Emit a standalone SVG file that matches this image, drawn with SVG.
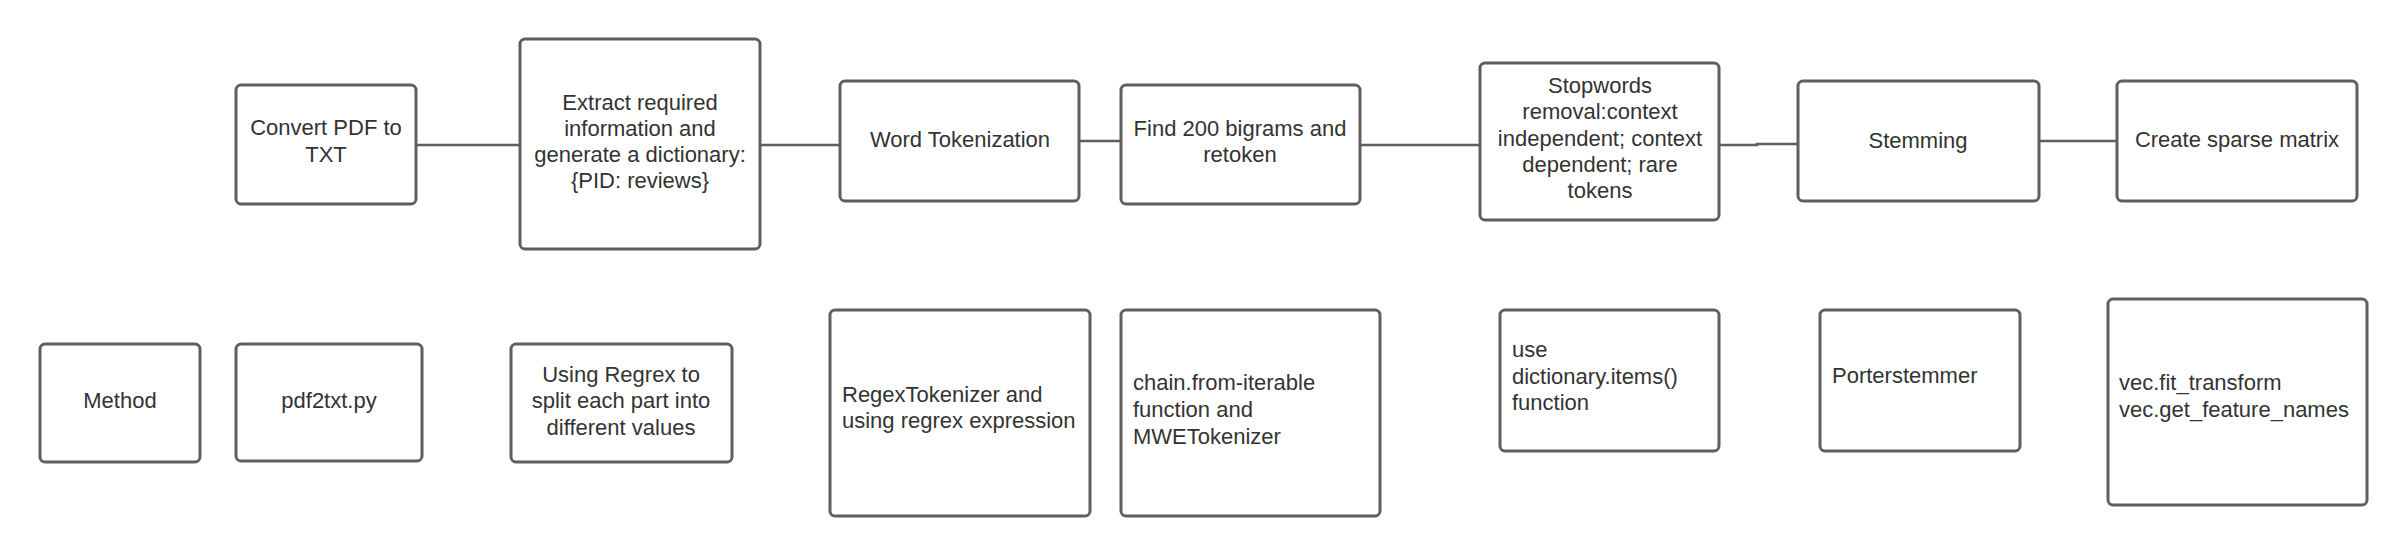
<svg xmlns="http://www.w3.org/2000/svg" width="2407" height="557" viewBox="0 0 2407 557">
<style>
.box{fill:#fff;stroke:#5f5f5f;stroke-width:3}
.t{font-family:"Liberation Sans",Arial,sans-serif;font-size:22px;fill:#333}
.c{text-anchor:middle}
.conn{fill:none;stroke:#5f5f5f;stroke-width:2.5}
</style>
<rect width="2407" height="557" fill="#fff"/>
<g id="connectors">
<path class="conn" d="M416 145H520"/>
<path class="conn" d="M760 145H840"/>
<path class="conn" d="M1079 141H1121"/>
<path class="conn" d="M1360 145H1480"/>
<path class="conn" d="M1719 145H1757V144H1798"/>
<path class="conn" d="M2039 141H2117"/>
</g>
<g id="convert"><rect class="box" x="236" y="85" width="180" height="119" rx="5"/>
<text class="t c" x="326" y="135">Convert PDF to</text><text class="t c" x="326" y="162">TXT</text></g>
<g id="extract"><rect class="box" x="520" y="39" width="240" height="210" rx="5"/>
<text class="t c" x="640" y="110">Extract required</text><text class="t c" x="640" y="136">information and</text><text class="t c" x="640" y="162">generate a dictionary:</text><text class="t c" x="640" y="188">{PID: reviews}</text></g>
<g id="word"><rect class="box" x="840" y="81" width="239" height="120" rx="5"/>
<text class="t c" x="960" y="147">Word Tokenization</text></g>
<g id="find"><rect class="box" x="1121" y="85" width="239" height="119" rx="5"/>
<text class="t c" x="1240" y="136">Find 200 bigrams and</text><text class="t c" x="1240" y="162">retoken</text></g>
<g id="stopwords"><rect class="box" x="1480" y="63" width="239" height="157" rx="5"/>
<text class="t c" x="1600" y="93">Stopwords</text><text class="t c" x="1600" y="119">removal:context</text><text class="t c" x="1600" y="146">independent; context</text><text class="t c" x="1600" y="172">dependent; rare</text><text class="t c" x="1600" y="198">tokens</text></g>
<g id="stemming"><rect class="box" x="1798" y="81" width="241" height="120" rx="5"/>
<text class="t c" x="1918" y="148">Stemming</text></g>
<g id="sparse"><rect class="box" x="2117" y="81" width="240" height="120" rx="5"/>
<text class="t c" x="2237" y="147">Create sparse matrix</text></g>
<g id="method"><rect class="box" x="40" y="344" width="160" height="118" rx="5"/>
<text class="t c" x="120" y="408">Method</text></g>
<g id="pdf2txt"><rect class="box" x="236" y="344" width="186" height="117" rx="5"/>
<text class="t c" x="329" y="408">pdf2txt.py</text></g>
<g id="regrex"><rect class="box" x="511" y="344" width="221" height="118" rx="5"/>
<text class="t c" x="621" y="382">Using Regrex to</text><text class="t c" x="621" y="408">split each part into</text><text class="t c" x="621" y="435">different values</text></g>
<g id="regextok"><rect class="box" x="830" y="310" width="260" height="206" rx="5"/>
<text class="t" x="842" y="402">RegexTokenizer and</text><text class="t" x="842" y="428">using regrex expression</text></g>
<g id="chain"><rect class="box" x="1121" y="310" width="259" height="206" rx="5"/>
<text class="t" x="1133" y="390">chain.from-iterable</text><text class="t" x="1133" y="417">function and</text><text class="t" x="1133" y="444">MWETokenizer</text></g>
<g id="items"><rect class="box" x="1500" y="310" width="219" height="141" rx="5"/>
<text class="t" x="1512" y="357">use</text><text class="t" x="1512" y="384">dictionary.items()</text><text class="t" x="1512" y="410">function</text></g>
<g id="porter"><rect class="box" x="1820" y="310" width="200" height="141" rx="5"/>
<text class="t" x="1832" y="383">Porterstemmer</text></g>
<g id="vec"><rect class="box" x="2108" y="299" width="259" height="206" rx="5"/>
<text class="t" x="2119" y="390">vec.fit_transform</text><text class="t" x="2119" y="417">vec.get_feature_names</text></g>
</svg>
